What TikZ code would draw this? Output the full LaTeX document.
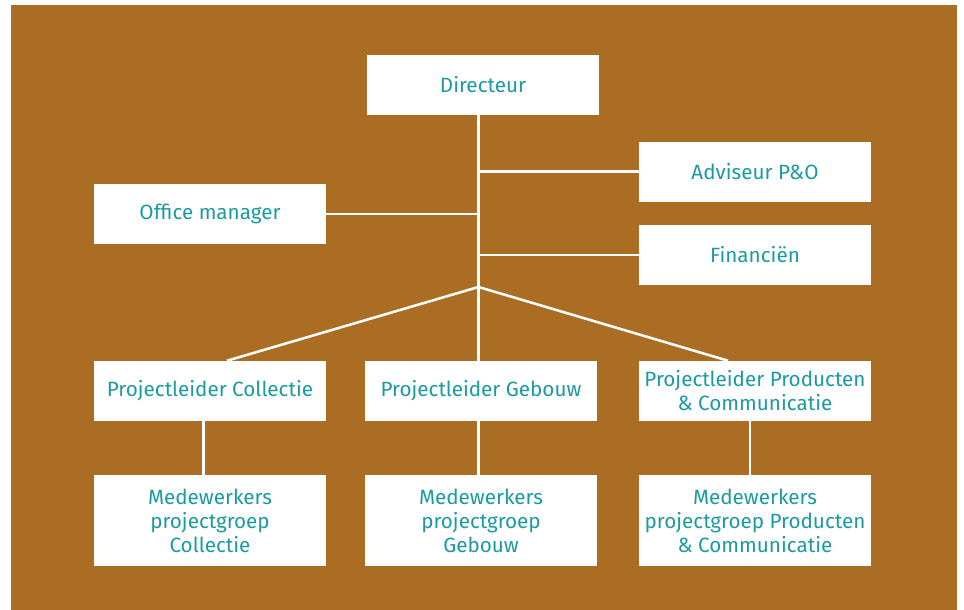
\documentclass[tikz,border=0pt]{standalone}
\usepackage{fontspec}
\setmainfont{Fira Sans}
\definecolor{bgbrown}{HTML}{AA6D23}
\definecolor{teal}{HTML}{1B9BA0}
\begin{document}
\begin{tikzpicture}[x=0.75pt,y=-0.75pt,
  box/.style={fill=white,draw=none,minimum width=174pt,minimum height=45pt,inner sep=0pt,
    text=teal,align=center,font=\fontsize{15.5}{18}\selectfont},
  tallbox/.style={box,minimum height=68.25pt},
  conn/.style={draw=white,line width=1.9pt}]
\useasboundingbox (0,0) rectangle (964,610);
\fill[bgbrown] (11,5) rectangle (957,610);
\node[box] (dir) at (483,85) {Directeur};
\node[box] (adv) at (755,171.5) {Adviseur P\&O};
\node[box] (off) at (210,214) {Office manager};
\node[box] (fin) at (755,255) {Financiën};
\node[box] (pl1) at (210,391) {Projectleider Collectie};
\node[box] (pl2) at (481,391) {Projectleider Gebouw};
\node[box] (pl3) at (755,391) {Projectleider Producten\\\& Communicatie};
\node[tallbox] (mw1) at (210,520.5) {Medewerkers\\projectgroep\\Collectie};
\node[tallbox] (mw2) at (481,520.5) {Medewerkers\\projectgroep\\Gebouw};
\node[tallbox] (mw3) at (755,520.5) {Medewerkers\\projectgroep Producten\\\& Communicatie};
\coordinate (t) at (478.5,0);
\coordinate (hub) at (478.5,287);
\coordinate (d1) at (227,0);
\coordinate (d3) at (728,0);
\coordinate (v1) at (203.5,0);
\coordinate (v3) at (750,0);
\draw[conn] (dir.south -| t) -- (pl2.north -| t);
\draw[conn] (adv.west) -- (adv.west -| t);
\draw[conn] (off.east) -- (off.east -| t);
\draw[conn] (fin.west) -- (fin.west -| t);
\draw[conn] (hub) -- (pl1.north -| d1);
\draw[conn] (hub) -- (pl3.north -| d3);
\draw[conn] (pl1.south -| v1) -- (mw1.north -| v1);
\draw[conn] (pl2.south -| t) -- (mw2.north -| t);
\draw[conn] (pl3.south -| v3) -- (mw3.north -| v3);
\end{tikzpicture}
\end{document}
